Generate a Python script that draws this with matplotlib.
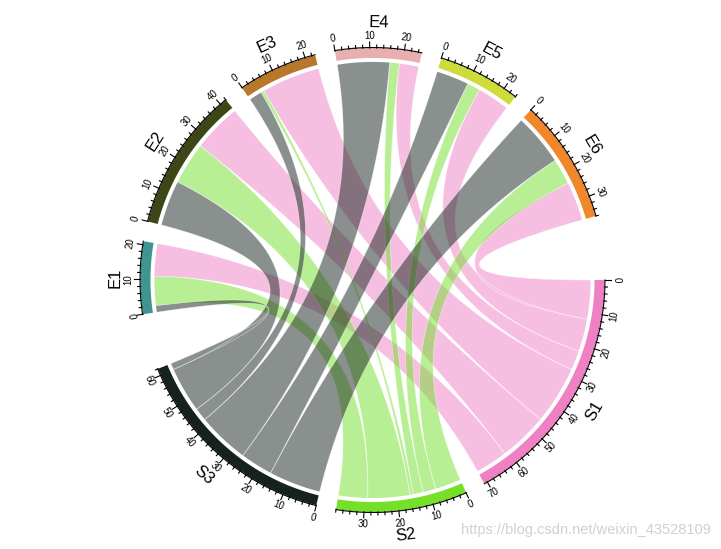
import numpy as np
import matplotlib
matplotlib.use("Agg")
import matplotlib.pyplot as plt
from matplotlib.patches import Polygon, PathPatch
from matplotlib.path import Path

plt.rcParams['font.family'] = ['Liberation Sans', 'DejaVu Sans']

## data: rows are source groups, columns target groups
rows = ['S1', 'S2', 'S3']
cols = ['E1', 'E2', 'E3', 'E4', 'E5', 'E6']
S1_vals = [10, 15, 18, 6, 10, 12]
S2_vals = [9, 13, 1, 3, 4, 8]
S3_vals = [2, 14, 4, 16, 10, 16]
mat = np.array([S1_vals, S2_vals, S3_vals], dtype=float)

row_colors = ['#EF80C4', '#74E02A', '#16231C']
col_colors = ['#3F9690', '#3D4617', '#B8772B', '#E9AEAE', '#CFDA3B', '#F0882B']
watermark = 'https://blog.csdn.net/weixin_43528109'

## layout
sectors = rows + cols
sizes = list(mat.sum(axis=1)) + list(mat.sum(axis=0))
colors = row_colors + col_colors
gaps = [5, 5, 14, 5, 5, 5, 5, 5, 16]   # gap after each sector (deg)
scale = (360 - sum(gaps)) / sum(sizes)

starts = {}
a = 0.0
for s, sz, g in zip(sectors, sizes, gaps):
    starts[s] = a
    a = a - sz * scale - g

def ang(sec, u):
    return np.radians(starts[sec] - u * scale)

r_out, r_in, r_link = 1.0, 0.957, 0.94

fig = plt.figure(figsize=(7.21, 5.49), dpi=100)
ax = fig.add_axes([0, 0, 1, 1])
ax.set_xlim(-372.5 / 232, (721 - 372.5) / 232)
ax.set_ylim(-(549 - 280) / 232, 280 / 232)
ax.axis('off')

def arc(sec, u0, u1, r, n=60):
    t = np.linspace(ang(sec, u0), ang(sec, u1), n)
    return np.column_stack([r * np.cos(t), r * np.sin(t)])

def bez(p0, p2, n=80):
    t = np.linspace(0, 1, n)[:, None]
    return (1 - t) ** 2 * p0 + (t ** 2) * p2   # control point at centre

## link offsets inside every sector
row_off = {}
for i, r in enumerate(rows):
    off = 0.0
    for j in reversed(range(len(cols))):
        row_off[(i, j)] = off
        off += mat[i, j]
col_off = {}
for j, c in enumerate(cols):
    off = 0.0
    for i in reversed(range(len(rows))):
        col_off[(i, j)] = off
        off += mat[i, j]

## links: one compound path per source group so that same-colour
## overlaps are not darkened
for i, r in enumerate(rows):
    verts, codes, edges = [], [], []
    for j, c in enumerate(cols):
        v = mat[i, j]
        if v <= 0:
            continue
        a0 = row_off[(i, j)]
        b0 = col_off[(i, j)]
        src = arc(r, a0, a0 + v, r_link)
        tgt = arc(c, b0, b0 + v, r_link)
        e1 = bez(src[-1], tgt[0])
        e2 = bez(tgt[-1], src[0])
        edges += [e1, e2]
        pts = np.vstack([src, e1, tgt, e2])
        verts.extend(pts.tolist() + [pts[0].tolist()])
        codes.extend([Path.MOVETO] + [Path.LINETO] * (len(pts) - 1) + [Path.CLOSEPOLY])
    ax.add_patch(PathPatch(Path(verts, codes), facecolor=row_colors[i],
                           alpha=0.5, edgecolor='none', zorder=2 + i))
    for e in edges:
        ax.plot(e[:, 0], e[:, 1], color='white', lw=0.5, alpha=0.5,
                zorder=2 + i + 0.5)

## tracks, axes and labels
def rot(theta_deg):
    t = (theta_deg + 180) % 360 - 180
    return t - 90 if t >= 0 else t + 90

for s, sz, col in zip(sectors, sizes, colors):
    outer = arc(s, 0, sz, r_out)
    inner = arc(s, sz, 0, r_in)
    ax.add_patch(Polygon(np.vstack([outer, inner]), closed=True,
                         facecolor=col, edgecolor='none', zorder=5))
    base = arc(s, 0, sz, r_out + 0.002, 100)
    ax.plot(base[:, 0], base[:, 1], color='black', lw=0.8, zorder=6)
    for u in np.arange(0, sz + 0.01, 2):
        t = ang(s, u)
        L = 0.026 if u % 10 == 0 else 0.013
        ax.plot([r_out * np.cos(t), (r_out + L) * np.cos(t)],
                [r_out * np.sin(t), (r_out + L) * np.sin(t)],
                color='black', lw=0.8, zorder=6)
        if u % 10 == 0:
            ax.text(1.054 * np.cos(t), 1.054 * np.sin(t), '%d' % u,
                    fontsize=7, ha='center', va='center',
                    rotation=rot(np.degrees(t)), rotation_mode='anchor')
    tm = ang(s, sz / 2)
    ax.text(1.11 * np.cos(tm), 1.11 * np.sin(tm), s, fontsize=12,
            ha='center', va='center', rotation=rot(np.degrees(tm)),
            rotation_mode='anchor')

ax.text(1.46, -1.078, watermark, fontsize=10.5, color='#C4C4C4',
        ha='right', va='center', alpha=0.8)

fig.savefig('out.png', dpi=100)
